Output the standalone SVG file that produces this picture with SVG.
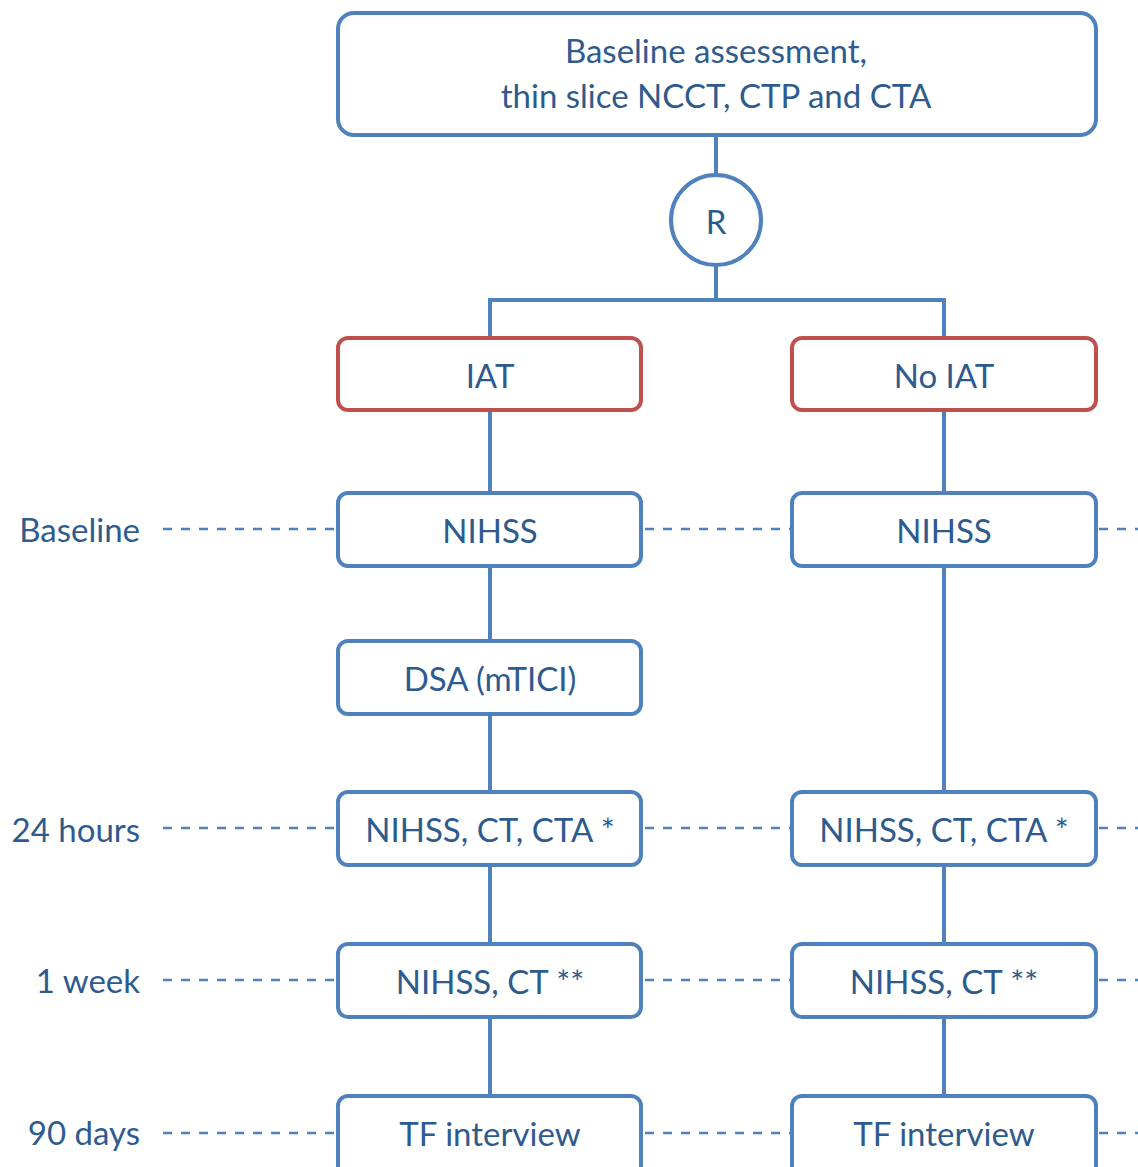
<svg xmlns="http://www.w3.org/2000/svg" width="1138" height="1167" viewBox="0 0 1138 1167">
<style>
.box{fill:#fff;stroke:#4f81bd;stroke-width:4}
.red{fill:#fff;stroke:#c0504d;stroke-width:4}
.ln{stroke:#4f81bd;stroke-width:4;fill:none}
.dash{stroke:#4f81bd;stroke-width:2.5;stroke-dasharray:9 9;fill:none}
text{font-family:Lato,"Open Sans","Liberation Sans",sans-serif;font-size:33px;fill:#2e5b8e;text-anchor:middle;dominant-baseline:central}
.lbl{text-anchor:end}
</style>
<rect width="1138" height="1167" fill="#fff"/>
<g id="connectors">
<path class="ln" d="M716 135V175M716 265V300M490 300H944M490 298V338M944 298V338"/>
<path class="ln" d="M490 410V493M490 566V641M490 714V792M490 865V944M490 1017V1096"/>
<path class="ln" d="M944 410V493M944 566V792M944 865V944M944 1017V1096"/>
<path class="dash" d="M163 529H337M645 529H791M1099 529H1138"/>
<path class="dash" d="M163 828H337M645 828H791M1099 828H1138"/>
<path class="dash" d="M163 980H337M645 980H791M1099 980H1138"/>
<path class="dash" d="M163 1133H337M645 1133H791M1099 1133H1138"/>
</g>
<g id="labels">
<text class="lbl" x="140" y="529">Baseline</text>
<text class="lbl" x="140" y="829">24 hours</text>
<text class="lbl" x="140" y="980">1 week</text>
<text class="lbl" x="140" y="1132">90 days</text>
</g>
<g id="baseline-assessment">
<rect class="box" x="338" y="13" width="758" height="122" rx="16"/>
<text x="716" y="50">Baseline assessment,</text>
<text x="716" y="95">thin slice NCCT, CTP and CTA</text>
</g>
<g id="R">
<circle class="box" cx="716" cy="220" r="45"/>
<text x="716" y="221">R</text>
</g>
<g id="IAT">
<rect class="red" x="338" y="338" width="303" height="72" rx="10"/>
<text x="490" y="375">IAT</text>
</g>
<g id="NoIAT">
<rect class="red" x="792" y="338" width="304" height="72" rx="10"/>
<text x="944" y="375">No IAT</text>
</g>
<g id="IAT-NIHSS">
<rect class="box" x="338" y="493" width="303" height="73" rx="10"/>
<text x="490" y="530">NIHSS</text>
</g>
<g id="NoIAT-NIHSS">
<rect class="box" x="792" y="493" width="304" height="73" rx="10"/>
<text x="944" y="530">NIHSS</text>
</g>
<g id="DSA">
<rect class="box" x="338" y="641" width="303" height="73" rx="10"/>
<text x="490" y="678">DSA (mTICI)</text>
</g>
<g id="IAT-24h">
<rect class="box" x="338" y="792" width="303" height="73" rx="10"/>
<text x="490" y="829">NIHSS, CT, CTA *</text>
</g>
<g id="NoIAT-24h">
<rect class="box" x="792" y="792" width="304" height="73" rx="10"/>
<text x="944" y="829">NIHSS, CT, CTA *</text>
</g>
<g id="IAT-1w">
<rect class="box" x="338" y="944" width="303" height="73" rx="10"/>
<text x="490" y="981">NIHSS, CT **</text>
</g>
<g id="NoIAT-1w">
<rect class="box" x="792" y="944" width="304" height="73" rx="10"/>
<text x="944" y="981">NIHSS, CT **</text>
</g>
<g id="IAT-90d">
<rect class="box" x="338" y="1096" width="303" height="90" rx="10"/>
<text x="490" y="1133">TF interview</text>
</g>
<g id="NoIAT-90d">
<rect class="box" x="792" y="1096" width="304" height="90" rx="10"/>
<text x="944" y="1133">TF interview</text>
</g>
</svg>
